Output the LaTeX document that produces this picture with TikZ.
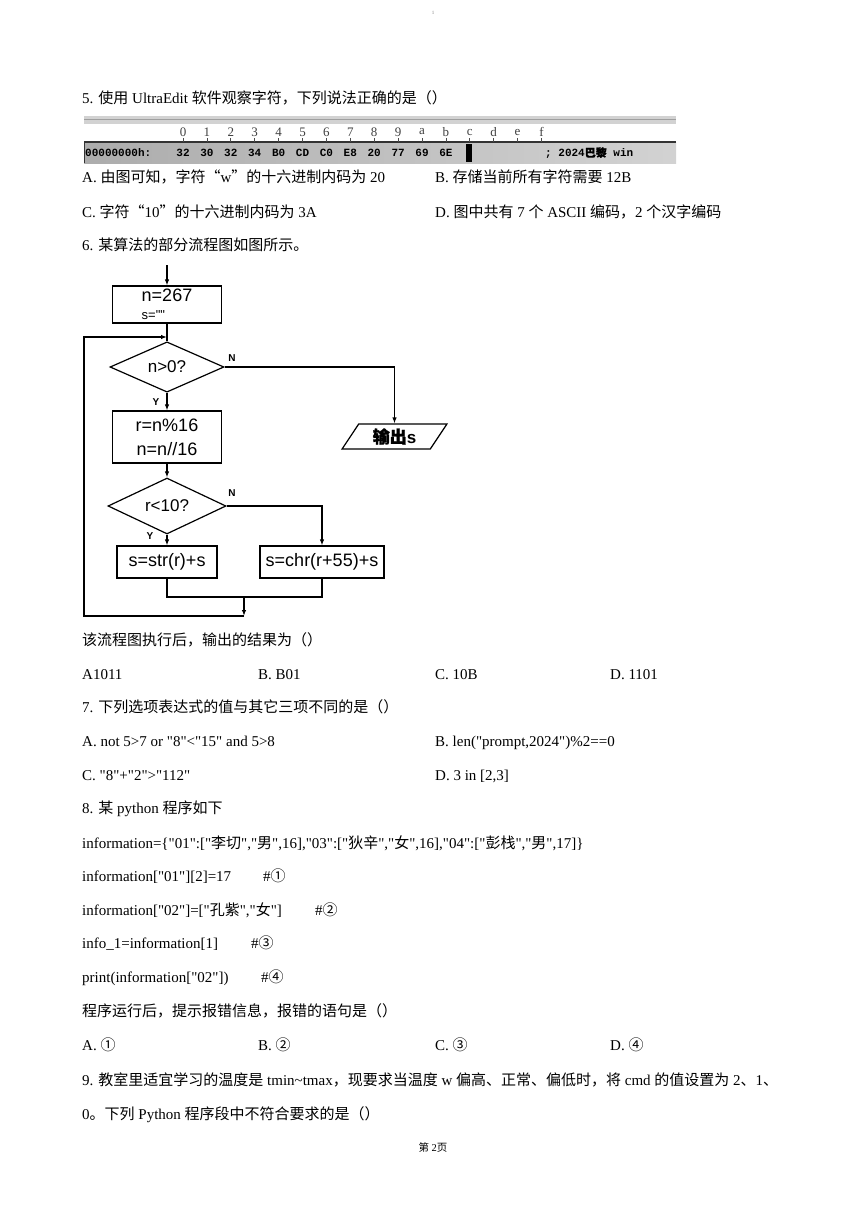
\documentclass[tikz,border=0pt]{standalone}
\usepackage{fontspec}
\setmainfont{Liberation Serif}[Ligatures=TeXOff]
\setsansfont{Liberation Sans}[Ligatures=TeXOff]
\setmonofont{Liberation Mono}
\newfontfamily\cjkfont{Noto Sans CJK SC}
\newfontfamily\cjkheavy{Noto Sans CJK SC}[FakeBold=1.5]
\usetikzlibrary{shapes.geometric,arrows.meta}
\newcommand{\zh}[1]{{\cjkfont #1}}

\tikzset{
  txt/.style={anchor=base west, inner sep=0pt, font=\fontsize{15}{18}\selectfont},
  box/.style={draw, line width=1.2pt, inner sep=1pt, font=\sffamily\fontsize{18}{24}\selectfont},
  cond/.style={draw, diamond, line width=1.2pt, inner sep=0pt, font=\sffamily\fontsize{17}{20}\selectfont},
  io/.style={draw, trapezium, trapezium left angle=60, trapezium right angle=120,
    trapezium stretches=true, line width=1.2pt, inner sep=1pt, font=\sffamily\bfseries\fontsize{17}{20}\selectfont},
  lbl/.style={inner sep=0pt, font=\sffamily\bfseries\fontsize{10}{10}\selectfont},
  flow/.style={line width=1.2pt, -{Latex[length=6pt,width=4.5pt]}},
  line/.style={line width=1.2pt},
}

\begin{document}
\begin{tikzpicture}[x=1pt,y=-1pt]
\useasboundingbox (0,0) rectangle (860,1216);
\fill[white] (0,0) rectangle (860,1216);

\node[inner sep=0pt, gray, font=\fontsize{5}{5}\selectfont] (mark) at (433,13) {1};

% question 5
\node[txt] (q5) at (82,103) {5. \zh{使用} UltraEdit \zh{软件观察字符，下列说法正确的是（）}};

% hex view
\fill[gray!35] (84,116) rectangle (676,124);
\draw[gray!75, line width=1.5pt] (84,119.5) -- (676,119.5);
\fill[left color=gray!65, right color=gray!35] (84,142) rectangle (676,163);
\draw[black!80, line width=1.4pt] (84,142) -- (676,142);
\draw[black!80, line width=1.4pt] (84.7,142) -- (84.7,163);
\foreach \h [count=\i from 0] in {0,1,2,3,4,5,6,7,8,9,a,b,c,d,e,f}
  \node[inner sep=0pt, text=black!75, font=\fontsize{13}{13}\selectfont] (hd\i) at (183+23.9*\i,132) {\h};
\foreach \i in {0,...,15}
  \draw[black!70, line width=0.8pt] (183+23.9*\i,138) -- (183+23.9*\i,142);
\node[anchor=west, inner sep=0pt, font=\ttfamily\bfseries\fontsize{11}{11}\selectfont] (addr) at (85,153) {00000000h:};
\foreach \b [count=\i from 0] in {32,30,32,34,B0,CD,C0,E8,20,77,69,6E}
  \node[inner sep=0pt, font=\ttfamily\bfseries\fontsize{11}{11}\selectfont] (by\i) at (183+23.9*\i,153) {\b};
\fill[black] (466,144) rectangle (472,162);
\node[anchor=west, inner sep=0pt, font=\ttfamily\bfseries\fontsize{11}{11}\selectfont] (chars) at (545,153) {; 2024{\cjkheavy 巴黎} win};

\node[txt] (q5a) at (82,182) {A. \zh{由图可知，字符“}w\zh{”的十六进制内码为} 20};
\node[txt] (q5b) at (435,182) {B. \zh{存储当前所有字符需要} 12B};
\node[txt] (q5c) at (82,217) {C. \zh{字符“}10\zh{”的十六进制内码为} 3A};
\node[txt] (q5d) at (435,217) {D. \zh{图中共有} 7 \zh{个} ASCII \zh{编码，}2 \zh{个汉字编码}};

% question 6
\node[txt] (q6) at (82,250) {6. \zh{某算法的部分流程图如图所示。}};

\node[box, minimum width=109pt, minimum height=37pt, align=left] (init) at (167,304.5) {n=267\\[-6pt]{\fontsize{13}{13}\selectfont s=""}};
\node[cond, minimum width=114pt, minimum height=40pt] (test1) at (167,367) {n>0?};
\node[box, minimum width=109pt, minimum height=52pt, align=center] (calc) at (167,437) {r=n\%16\\n=n//16};
\node[cond, minimum width=118pt, minimum height=42pt] (test2) at (167,506) {r<10?};
\node[box, minimum width=100pt, minimum height=32pt] (numstr) at (167,562) {s=str(r)+s};
\node[box, minimum width=124pt, minimum height=32pt] (letstr) at (322,562) {s=chr(r+55)+s};
\node[io, minimum width=105pt, minimum height=25pt] (out) at (394.5,436.5) {{\cjkheavy 输出}s};

\node[lbl] (n1) at (232,358) {N};
\node[lbl] (y1) at (156,402) {Y};
\node[lbl] (n2) at (232,493) {N};
\node[lbl] (y2) at (150,536) {Y};

\coordinate (entry) at (167,265);
\coordinate (join) at (244,597);
\coordinate (back) at (244,616);
\coordinate (corner) at (84,616);
\coordinate (reentry) at (167,337);

\draw[flow] (entry) -- (init);
\draw[line] (init) -- (test1);
\draw[flow] (test1) -- (calc);
\draw[flow] (test1.east) -| (out.north);
\draw[flow] (calc) -- (test2);
\draw[flow] (test2) -- (numstr);
\draw[flow] (test2.east) -| (letstr.north);
\draw[line] (numstr.south) |- (join) -| (letstr.south);
\draw[flow] (join) -- (back);
\draw[flow] (back) -- (corner) |- (reentry);

\node[txt] (q6s) at (82,645) {\zh{该流程图执行后，输出的结果为（）}};
\node[txt] (q6a) at (82,679) {A1011};
\node[txt] (q6b) at (258,679) {B. B01};
\node[txt] (q6c) at (435,679) {C. 10B};
\node[txt] (q6d) at (610,679) {D. 1101};

% question 7
\node[txt] (q7) at (82,712) {7. \zh{下列选项表达式的值与其它三项不同的是（）}};
\node[txt] (q7a) at (82,746) {A. not 5>7 or "8"<"15" and 5>8};
\node[txt] (q7b) at (435,746) {B. len("prompt,2024")\%2==0};
\node[txt] (q7c) at (82,780) {C. "8"+"2">"112"};
\node[txt] (q7d) at (435,780) {D. 3 in [2,3]};

% question 8
\node[txt] (q8) at (82,813) {8. \zh{某} python \zh{程序如下}};
\node[txt] (code1) at (82,848) {information=\{"01":["\zh{李切}","\zh{男}",16],"03":["\zh{狄辛}","\zh{女}",16],"04":["\zh{彭栈}","\zh{男}",17]\}};
\node[txt] (code2) at (82,881) {information["01"][2]=17};
\node[txt] (rem1) at (263,881) {\#\zh{①}};
\node[txt] (code3) at (82,915) {information["02"]=["\zh{孔紫}","\zh{女}"]};
\node[txt] (rem2) at (315,915) {\#\zh{②}};
\node[txt] (code4) at (82,948) {info\_1=information[1]};
\node[txt] (rem3) at (251,948) {\#\zh{③}};
\node[txt] (code5) at (82,982) {print(information["02"])};
\node[txt] (rem4) at (261,982) {\#\zh{④}};
\node[txt] (q8s) at (82,1016) {\zh{程序运行后，提示报错信息，报错的语句是（）}};
\node[txt] (q8a) at (82,1050) {A. \zh{①}};
\node[txt] (q8b) at (258,1050) {B. \zh{②}};
\node[txt] (q8c) at (435,1050) {C. \zh{③}};
\node[txt] (q8d) at (610,1050) {D. \zh{④}};

% question 9
\node[txt] (q9) at (82,1085) {9. \zh{教室里适宜学习的温度是} tmin\textasciitilde tmax\zh{，现要求当温度} w \zh{偏高、正常、偏低时，将} cmd \zh{的值设置为} 2\zh{、}1\zh{、}};
\node[txt] (q9b) at (82,1119) {0\zh{。下列} Python \zh{程序段中不符合要求的是（）}};

\node[inner sep=0pt, anchor=base, font=\fontsize{10.5}{12}\selectfont] (page) at (433,1151) {\zh{第} 2\zh{页}};
\end{tikzpicture}
\end{document}
